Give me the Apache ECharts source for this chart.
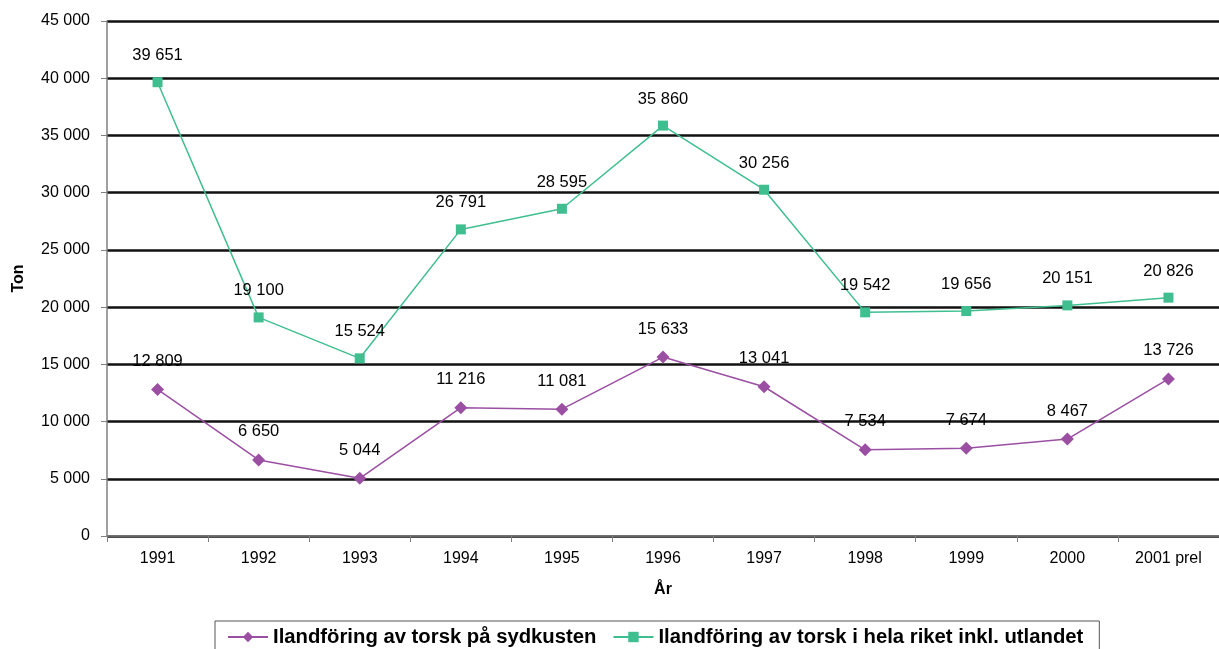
<!DOCTYPE html>
<html><head><meta charset="utf-8">
<script src="https://cdn.jsdelivr.net/npm/echarts@6/dist/echarts.min.js"></script>
<style>html,body{margin:0;padding:0;background:#fff}#c{width:1219px;height:649px}</style>
</head><body><div id="c"></div>
<script>
const categories = ['1991','1992','1993','1994','1995','1996','1997','1998','1999','2000','2001 prel'];
const sydkusten = [12809, 6650, 5044, 11216, 11081, 15633, 13041, 7534, 7674, 8467, 13726];
const helaRiket = [39651, 19100, 15524, 26791, 28595, 35860, 30256, 19542, 19656, 20151, 20826];
const yTicks = [0, 5000, 10000, 15000, 20000, 25000, 30000, 35000, 40000, 45000];

const fmt = v => { const s = String(Math.round(v)); return s.length > 3 ? s.slice(0, s.length-3) + ' ' + s.slice(-3) : s; };
const font = 'Liberation Sans, Arial, sans-serif';
const chart = echarts.init(document.getElementById('c'));
chart.setOption({
  animation: false,
  textStyle: { fontFamily: font },
  grid: { left: 107, right: 0, top: 21, bottom: 113, containLabel: false, outerBoundsMode: 'none' },
  legend: {
    bottom: -4, left: 215, itemGap: 16, itemWidth: 40, itemHeight: 13,
    borderColor: '#555', borderWidth: 1, padding: [6, 16, 6, 12],
    textStyle: { fontFamily: font, fontSize: 20.3, fontWeight: 'bold', color: '#000' },
    data: ['Ilandföring av torsk på sydkusten', 'Ilandföring av torsk i hela riket inkl. utlandet']
  },
  xAxis: {
    type: 'category', data: categories, boundaryGap: true,
    name: 'År', nameLocation: 'middle', nameGap: 46,
    nameTextStyle: { fontFamily: font, fontSize: 16, fontWeight: 'bold', color: '#000' },
    axisLine: { lineStyle: { color: '#808080', width: 1.5 } },
    axisTick: { show: true, alignWithLabel: false, length: 6, lineStyle: { color: '#808080' } },
    axisLabel: { fontFamily: font, fontSize: 16, color: '#000', margin: 15 }
  },
  yAxis: {
    type: 'value', min: 0, max: 45000, interval: 5000,
    name: 'Ton', nameLocation: 'middle', nameGap: 80, nameRotate: 90,
    nameTextStyle: { fontFamily: font, fontSize: 16, fontWeight: 'bold', color: '#000' },
    axisLine: { show: true, lineStyle: { color: '#808080', width: 1.5 } },
    axisTick: { show: true, length: 6, lineStyle: { color: '#808080' } },
    axisLabel: { fontFamily: font, fontSize: 16, color: '#000', margin: 17, formatter: v => yTicks.includes(v) ? fmt(v) : '' },
    splitLine: { show: true, lineStyle: { color: '#111', width: 2.5 } }
  },
  series: [
    {
      name: 'Ilandföring av torsk på sydkusten', type: 'line', data: sydkusten,
      symbol: 'diamond', symbolSize: 13,
      lineStyle: { color: '#9b4fa3', width: 1.5 },
      itemStyle: { color: '#9b4fa3' },
      label: { show: true, position: 'top', distance: 13, fontFamily: font, fontSize: 16.5, color: '#000', formatter: p => fmt(p.value) }
    },
    {
      name: 'Ilandföring av torsk i hela riket inkl. utlandet', type: 'line', data: helaRiket,
      symbol: 'rect', symbolSize: 10,
      lineStyle: { color: '#3fbf8f', width: 1.5 },
      itemStyle: { color: '#3fbf8f' },
      label: { show: true, position: 'top', distance: 13, fontFamily: font, fontSize: 16.5, color: '#000', formatter: p => fmt(p.value) }
    }
  ]
});
</script></body></html>
